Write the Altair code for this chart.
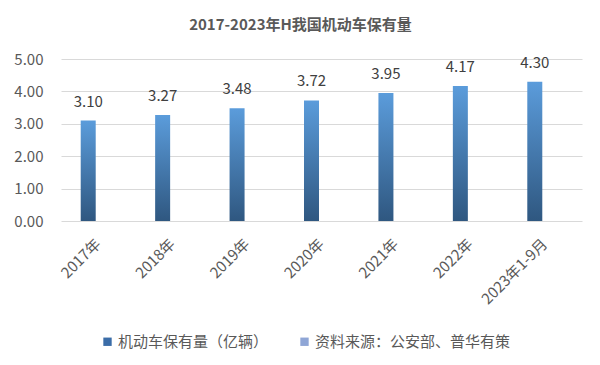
import altair as alt
import pandas as pd

categories = ["2017年", "2018年", "2019年", "2020年", "2021年", "2022年", "2023年1-9月"]
values = [3.10, 3.27, 3.48, 3.72, 3.95, 4.17, 4.30]
series = ["机动车保有量（亿辆）", "资料来源：公安部、普华有策"]
series_colors = ["#3B6DA8", "#8FA6D6"]
y_ticks = [0, 1, 2, 3, 4, 5]
title_text = "2017-2023年H我国机动车保有量"

FONT = "Noto Sans CJK SC"

df = pd.DataFrame({"cat": categories, "val": values})
df["lab"] = [f"{v:.2f}" for v in values]
leg_df = pd.DataFrame({"series": series})

x_enc = alt.X(
    "cat:N",
    sort=categories,
    scale=alt.Scale(paddingInner=0, paddingOuter=0),
    axis=alt.Axis(
        title=None, labelAngle=-45, labelAlign="right", labelBaseline="middle",
        labelPadding=20, ticks=False, domain=False, grid=False,
        labelFont=FONT, labelFontSize=15, labelColor="#595959", labelLimit=0,
    ),
)
y_axis = alt.Axis(
    title=None, values=y_ticks, tickCount=len(y_ticks), format=".2f", grid=True,
    gridColor="#D9D9D9", domain=False, ticks=False, labelPadding=18, labelOverlap=False,
    labelFont=FONT, labelFontSize=15, labelColor="#595959",
)
y_scale = alt.Scale(domain=[0, 5], nice=False)

grad = alt.Gradient(
    gradient="linear",
    stops=[alt.GradientStop(color="#2F5780", offset=0),
           alt.GradientStop(color="#5B9CDB", offset=1)],
    x1=0, x2=0, y1=1, y2=0,
)

bars = alt.Chart(df).mark_bar(color=grad, width=15, xOffset=-10).encode(
    x=x_enc, y=alt.Y("val:Q", scale=y_scale, axis=y_axis)
)

labels = alt.Chart(df).mark_text(
    font=FONT, fontSize=15, color="#404040", baseline="alphabetic", dy=-14, dx=-10
).encode(
    x=alt.X("cat:N", sort=categories),
    y=alt.Y("val:Q", scale=y_scale, axis=y_axis),
    text="lab:N",
)

legend_layer = alt.Chart(leg_df).mark_square(opacity=0).encode(
    color=alt.Color(
        "series:N",
        scale=alt.Scale(domain=series, range=series_colors),
        legend=alt.Legend(
            title=None, orient="none", legendX=39, legendY=275, direction="horizontal",
            symbolType="square", symbolSize=70, symbolOpacity=1, symbolStrokeWidth=0,
            labelFont=FONT, labelFontSize=15, labelColor="#595959", labelLimit=0,
            columnPadding=28, labelOffset=3,
        ),
    )
)

chart = alt.layer(bars, labels, legend_layer).properties(
    width=521,
    height=162,
    title=alt.TitleParams(
        title_text, font=FONT, fontSize=15, fontWeight="bold", color="#595959",
        anchor="middle", frame="group", dx=-21, offset=4, baseline="bottom",
    ),
    autosize=alt.AutoSizeParams(type="none"),
    padding={"left": 53, "top": 51, "right": 10, "bottom": 136},
).configure(background="white").configure_view(stroke=None)

chart.save("out.html", embed_options={"renderer": "svg", "actions": False})
